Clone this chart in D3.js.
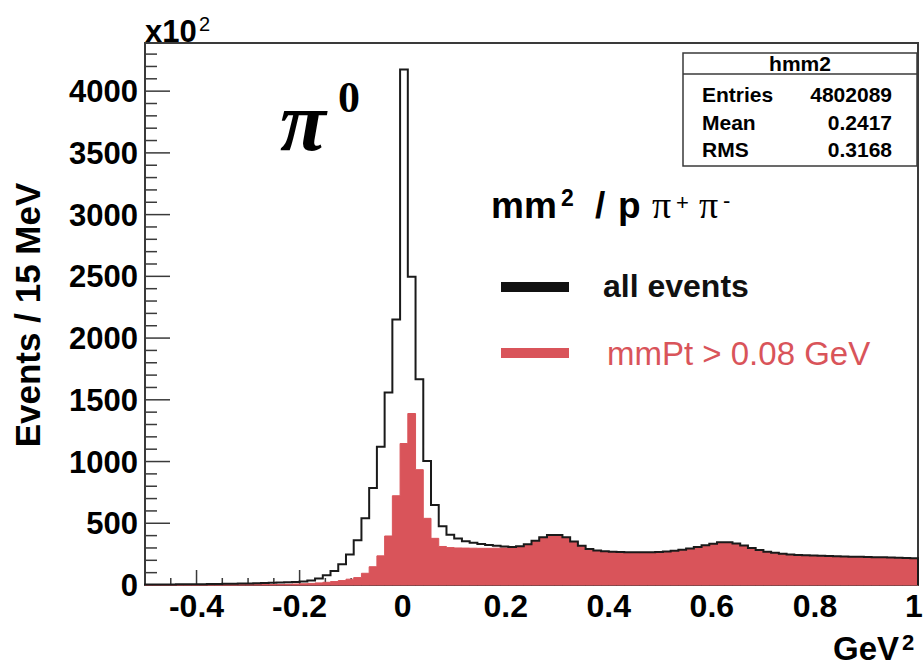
<!DOCTYPE html>
<html>
<head>
<meta charset="utf-8">
<script src="https://cdn.jsdelivr.net/npm/d3@7"></script>
<style>
  body { margin: 0; background: #fff; }
  svg text { font-family: "Liberation Sans", Arial, Helvetica, sans-serif; }
  svg text.serif { font-family: "Liberation Serif", "Times New Roman", serif; }
</style>
</head>
<body>
<svg id="chart"></svg>
<script>
/* CONSTANTS AND GLOBALS */
const width = 923,
  height = 670,
  margin = { top: 43, bottom: 85, left: 145, right: 5 };

// histogram binning (GeV^2)
const xMin = -0.5, xMax = 1.0, binWidth = 0.015;

// all events, units of 10^2 per bin (100 bins)
const allEvents = [
  4, 4, 5, 5, 6, 6, 7, 7, 8, 9,
  10, 11, 12, 13, 15, 16, 18, 20, 22, 25,
  29, 36, 52, 78, 114, 168, 247, 362, 540, 786,
  1120, 1560, 2151, 4176, 2496, 1666, 1005, 648, 476, 408,
  376, 354, 342, 332, 324, 317, 311, 307, 314, 330,
  358, 387, 404, 404, 386, 352, 318, 292, 279, 273,
  270, 268, 266, 265, 265, 266, 268, 271, 277, 285,
  295, 307, 321, 335, 346, 346, 337, 320, 300, 283,
  270, 261, 254, 248, 244, 241, 238, 236, 234, 232,
  231, 229, 228, 227, 225, 224, 222, 220, 218, 217
];

// mmPt > 0.08 GeV
const mmPtCut = [
  1, 1, 1, 1, 1, 1, 1, 2, 2, 2,
  2, 2, 3, 3, 3, 4, 4, 5, 6, 8,
  10, 13, 17, 22, 28, 36, 47, 60, 95, 148,
  236, 397, 723, 1146, 1389, 934, 540, 378, 312, 303,
  300, 299, 298, 297, 297, 298, 300, 303, 311, 327,
  355, 384, 401, 401, 383, 349, 315, 289, 276, 270,
  267, 265, 263, 262, 262, 263, 265, 268, 274, 282,
  292, 304, 318, 332, 343, 343, 334, 317, 297, 280,
  267, 258, 251, 245, 241, 238, 235, 233, 231, 229,
  228, 226, 225, 224, 222, 221, 219, 217, 215, 214
];

const xTicks = [-0.4, -0.2, 0, 0.2, 0.4, 0.6, 0.8, 1];
const xTickLabels = ["-0.4", "-0.2", "0", "0.2", "0.4", "0.6", "0.8", "1"];
const yTicks = [0, 500, 1000, 1500, 2000, 2500, 3000, 3500, 4000];

const statNames = ["Entries", "Mean", "RMS"];
const statValues = ["4802089", "0.2417", "0.3168"];

const redColor = "#d9545a";
const axisColor = "#3a3a3a";

const svg = d3.select("#chart")
  .attr("width", width)
  .attr("height", height);

const x = d3.scaleLinear()
  .domain([xMin, xMax])
  .range([margin.left, width - margin.right]);

const y = d3.scaleLinear()
  .domain([0, 4390])
  .range([height - margin.bottom, margin.top]);

// frame
svg.append("rect")
  .attr("x", x(xMin))
  .attr("y", y(4390))
  .attr("width", x(xMax) - x(xMin))
  .attr("height", y(0) - y(4390))
  .attr("fill", "none")
  .attr("stroke", axisColor)
  .attr("stroke-width", 2);

// x axis ticks (pointing up, inside)
const xMinor = d3.range(-0.45, 1.0001, 0.05);
svg.append("g")
  .selectAll("line")
  .data(xMinor)
  .join("line")
    .attr("x1", d => x(d))
    .attr("x2", d => x(d))
    .attr("y1", y(0))
    .attr("y2", d => y(0) - (xTicks.some(t => Math.abs(t - d) < 1e-6) ? 15 : 7))
    .attr("stroke", axisColor)
    .attr("stroke-width", 1.5);

svg.append("g")
  .selectAll("text")
  .data(xTicks)
  .join("text")
    .attr("x", d => d === 1 ? x(d) - 4 : x(d))
    .attr("y", 617)
    .attr("text-anchor", "middle")
    .attr("font-size", 32)
    .attr("font-weight", "bold")
    .text((d, i) => xTickLabels[i]);

// y axis ticks (pointing right, inside)
const yMinor = d3.range(100, 4390, 100);
svg.append("g")
  .selectAll("line")
  .data(yMinor)
  .join("line")
    .attr("x1", x(xMin))
    .attr("x2", d => x(xMin) + (d % 500 === 0 ? 25 : 12))
    .attr("y1", d => y(d))
    .attr("y2", d => y(d))
    .attr("stroke", axisColor)
    .attr("stroke-width", 1.5);

svg.append("g")
  .selectAll("text")
  .data(yTicks)
  .join("text")
    .attr("x", 138)
    .attr("y", d => y(d) + 11)
    .attr("text-anchor", "end")
    .attr("font-size", 31)
    .attr("font-weight", "bold")
    .text(d => d);

// histograms
const edges = d3.range(allEvents.length + 1).map(i => xMin + i * binWidth);

const redPts = mmPtCut.map((v, i) => [edges[i], v]);
redPts.push([edges[mmPtCut.length], mmPtCut[mmPtCut.length - 1]]);

const area = d3.area()
  .curve(d3.curveStepAfter)
  .x(d => x(d[0]))
  .y0(y(0))
  .y1(d => y(d[1]));

svg.append("path")
  .attr("d", area(redPts))
  .attr("fill", redColor)
  .attr("stroke", redColor)
  .attr("stroke-width", 1);

const blackPts = [[edges[0], 0]].concat(allEvents.map((v, i) => [edges[i], v]));
blackPts.push([edges[allEvents.length], allEvents[allEvents.length - 1]]);
blackPts.push([edges[allEvents.length], 0]);

const line = d3.line()
  .curve(d3.curveStepAfter)
  .x(d => x(d[0]))
  .y(d => y(d[1]));

svg.append("path")
  .attr("d", line(blackPts))
  .attr("fill", "none")
  .attr("stroke", "#1a1a1a")
  .attr("stroke-width", 2);

// axis titles
svg.append("text")
  .attr("transform", "translate(40,315) rotate(-90)")
  .attr("text-anchor", "middle")
  .attr("font-size", 35)
  .attr("font-weight", "bold")
  .text("Events / 15 MeV");

svg.append("text")
  .attr("x", 145)
  .attr("y", 42)
  .attr("font-size", 31)
  .attr("font-weight", "bold")
  .text("x10");
svg.append("text")
  .attr("x", 199)
  .attr("y", 31)
  .attr("font-size", 20)
  .text("2");

svg.append("text")
  .attr("x", 833)
  .attr("y", 660)
  .attr("font-size", 33)
  .attr("font-weight", "bold")
  .text("GeV");
svg.append("text")
  .attr("x", 902)
  .attr("y", 650)
  .attr("font-size", 22)
  .attr("font-weight", "bold")
  .text("2");

// pi0 label
svg.append("text")
  .attr("class", "serif")
  .attr("x", 280)
  .attr("y", 150)
  .attr("font-style", "italic")
  .attr("font-weight", "bold")
  .attr("font-size", 84)
  .text("π");
svg.append("text")
  .attr("class", "serif")
  .attr("x", 338)
  .attr("y", 112)
  .attr("font-weight", "bold")
  .attr("font-size", 44)
  .text("0");

// title mm^2 / p pi+ pi-
const title = svg.append("g");
title.append("text").attr("x", 491).attr("y", 218)
  .attr("font-size", 37).attr("font-weight", "bold").text("mm");
title.append("text").attr("x", 561).attr("y", 206)
  .attr("font-size", 23).attr("font-weight", "bold").text("2");
title.append("text").attr("x", 595).attr("y", 218)
  .attr("font-size", 37).attr("font-weight", "bold").text("/");
title.append("text").attr("x", 618).attr("y", 218)
  .attr("font-size", 37).attr("font-weight", "bold").text("p");
title.append("text").attr("class", "serif").attr("x", 652).attr("y", 218)
  .attr("font-size", 38).text("π");
title.append("text").attr("x", 676).attr("y", 210)
  .attr("font-size", 22).text("+");
title.append("text").attr("class", "serif").attr("x", 699).attr("y", 218)
  .attr("font-size", 38).text("π");
title.append("text").attr("x", 723).attr("y", 208)
  .attr("font-size", 22).text("-");

// legend
const legendItems = [
  { label: "all events", color: "#111", weight: "bold", size: 32, ly: 287, ty: 297, tx: 603 },
  { label: "mmPt > 0.08 GeV", color: redColor, weight: "normal", size: 33, ly: 353, ty: 365, tx: 607 }
];
const legend = svg.append("g");
legend.selectAll("rect")
  .data(legendItems)
  .join("rect")
    .attr("x", 501)
    .attr("y", d => d.ly - 5)
    .attr("width", 68)
    .attr("height", 10)
    .attr("fill", d => d.color);
legend.selectAll("text")
  .data(legendItems)
  .join("text")
    .attr("x", d => d.tx)
    .attr("y", d => d.ty)
    .attr("font-size", d => d.size)
    .attr("font-weight", d => d.weight)
    .attr("fill", d => d.color)
    .text(d => d.label);

// stats box
const stats = svg.append("g");
stats.append("rect")
  .attr("x", 683).attr("y", 53)
  .attr("width", 234).attr("height", 113)
  .attr("fill", "#fff")
  .attr("stroke", axisColor)
  .attr("stroke-width", 1.5);
stats.append("line")
  .attr("x1", 683).attr("x2", 917)
  .attr("y1", 74).attr("y2", 74)
  .attr("stroke", axisColor)
  .attr("stroke-width", 1.5);
stats.append("text")
  .attr("x", 800).attr("y", 71)
  .attr("text-anchor", "middle")
  .attr("font-size", 21)
  .attr("font-weight", "bold")
  .text("hmm2");
stats.selectAll(".sname")
  .data(statNames)
  .join("text")
    .attr("class", "sname")
    .attr("x", 702)
    .attr("y", (d, i) => 102 + i * 27.5)
    .attr("font-size", 21)
    .attr("font-weight", "bold")
    .text(d => d);
stats.selectAll(".sval")
  .data(statValues)
  .join("text")
    .attr("class", "sval")
    .attr("x", 892)
    .attr("y", (d, i) => 102 + i * 27.5)
    .attr("text-anchor", "end")
    .attr("font-size", 21)
    .attr("font-weight", "bold")
    .text(d => d);
</script>
</body>
</html>
